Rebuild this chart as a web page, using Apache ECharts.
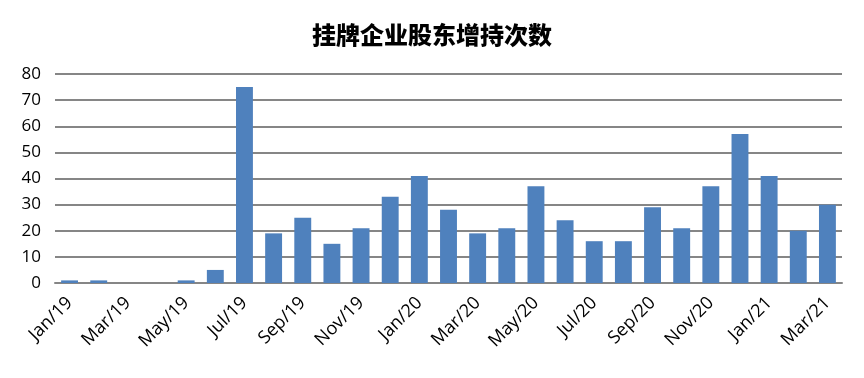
<!DOCTYPE html>
<html lang="zh">
  <head>
    <meta charset="UTF-8" />
    <script src="https://cdn.jsdelivr.net/npm/echarts@6/dist/echarts.min.js"></script>
    <title>挂牌企业股东增持次数</title>
    <style>
      html, body { margin: 0; padding: 0; background: #fff; }
      #app { width: 864px; height: 378px; }
    </style>
  </head>
  <body>
    <div id="app"></div>
    <script>
      // 月份
      const months = [
        "Jan/19", "Feb/19", "Mar/19", "Apr/19", "May/19", "Jun/19", "Jul/19",
        "Aug/19", "Sep/19", "Oct/19", "Nov/19", "Dec/19", "Jan/20", "Feb/20",
        "Mar/20", "Apr/20", "May/20", "Jun/20", "Jul/20", "Aug/20", "Sep/20",
        "Oct/20", "Nov/20", "Dec/20", "Jan/21", "Feb/21", "Mar/21"
      ];
      // 增持次数
      const counts = [
        1, 1, 0, 0, 1, 5, 75, 19, 25, 15, 21, 33, 41, 28,
        19, 21, 37, 24, 16, 16, 29, 21, 37, 57, 41, 20, 30
      ];
      const yTicks = { min: 0, max: 80, interval: 10 };

      const chart = echarts.init(document.getElementById("app"));
      chart.setOption({
        animation: false,
        title: {
          text: "挂牌企业股东增持次数",
          left: "center",
          top: 18,
          textStyle: {
            fontFamily: "Noto Sans CJK SC",
            fontWeight: 900,
            fontSize: 24,
            color: "#000",
          },
        },
        grid: { left: 55, right: 22, top: 74, bottom: 95 },
        xAxis: {
          type: "category",
          data: months,
          axisLine: { lineStyle: { color: "#868686", width: 2 } },
          axisTick: { show: false },
          axisLabel: {
            interval: 1,
            rotate: 45,
            margin: 17,
            fontSize: 18,
            fontFamily: "Open Sans",
            color: "#000",
          },
        },
        yAxis: {
          type: "value",
          min: yTicks.min,
          max: yTicks.max,
          interval: yTicks.interval,
          axisLine: { show: false },
          axisTick: { show: false },
          axisLabel: {
            fontSize: 17,
            fontFamily: "Open Sans",
            color: "#000",
            margin: 14,
          },
          splitLine: { lineStyle: { color: "#868686", width: 2 } },
        },
        series: [
          {
            type: "bar",
            data: counts,
            barWidth: "58%",
            itemStyle: { color: "#4f81bd" },
          },
        ],
      });
    </script>
  </body>
</html>
